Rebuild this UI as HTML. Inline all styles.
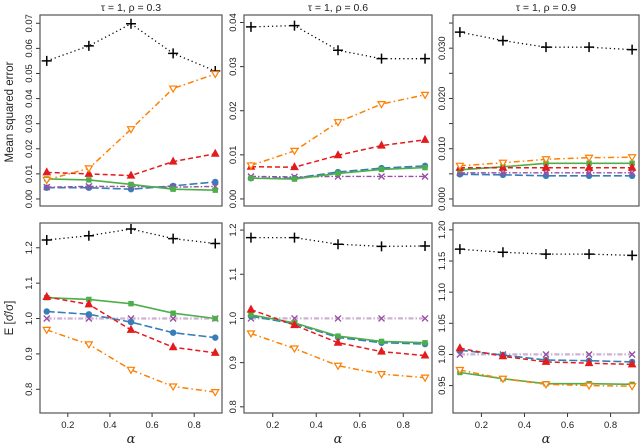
<!DOCTYPE html>
<html><head><meta charset="utf-8"><style>
html,body{margin:0;padding:0;background:#fff;}
svg{display:block;font-family:"Liberation Sans",sans-serif;}
</style></head><body>
<svg id="chart" width="640" height="445" viewBox="0 0 640 445" xmlns="http://www.w3.org/2000/svg"></svg>
<script>
const alphas = [0.1, 0.3, 0.5, 0.7, 0.9];
const seriesNames = ["naive", "orange-method", "red-method", "green-method", "blue-method", "purple-method"];
// MSE top row, panels rho 0.3, 0.6, 0.9
const mse03_black = [0.055, 0.061, 0.0698, 0.058, 0.051];
const mse03_orange = [0.0076, 0.0122, 0.0278, 0.044, 0.0498];
const mse03_red = [0.0106, 0.0100, 0.0093, 0.0149, 0.018];
const mse03_green = [0.0080, 0.0076, 0.0058, 0.0039, 0.0035];
const mse03_blue = [0.0045, 0.0045, 0.0039, 0.0052, 0.0068];
const mse03_purple = [0.0047, 0.0050, 0.0050, 0.0047, 0.0050];
const mse06_black = [0.0390, 0.0393, 0.0337, 0.0318, 0.0318];
const mse06_orange = [0.0076, 0.0109, 0.0174, 0.0215, 0.0236];
const mse06_red = [0.0073, 0.0072, 0.0099, 0.0121, 0.0134];
const mse06_green = [0.0047, 0.0045, 0.0058, 0.0067, 0.0071];
const mse06_blue = [0.0047, 0.0047, 0.0061, 0.0070, 0.0075];
const mse06_purple = [0.0051, 0.0050, 0.0051, 0.0051, 0.0051];
const mse09_black = [0.0332, 0.0315, 0.0302, 0.0302, 0.0297];
const mse09_orange = [0.0066, 0.0072, 0.0079, 0.0082, 0.0083];
const mse09_red = [0.0062, 0.0062, 0.0062, 0.0062, 0.0062];
const mse09_green = [0.0058, 0.0064, 0.0071, 0.0071, 0.0071];
const mse09_blue = [0.0049, 0.0048, 0.0046, 0.0046, 0.0046];
const mse09_purple = [0.0052, 0.0052, 0.0052, 0.0052, 0.0052];
// E[sigma-hat/sigma] bottom row
const ratio03_black = [1.222, 1.234, 1.253, 1.226, 1.212];
const ratio03_orange = [0.968, 0.927, 0.855, 0.808, 0.792];
const ratio03_red = [1.061, 1.040, 0.968, 0.919, 0.903];
const ratio03_green = [1.059, 1.054, 1.042, 1.015, 1.000];
const ratio03_blue = [1.020, 1.012, 0.990, 0.960, 0.946];
const ratio03_purple = [1.0, 1.0, 1.0, 1.0, 1.0];
const ratio06_black = [1.183, 1.183, 1.168, 1.163, 1.164];
const ratio06_orange = [0.966, 0.932, 0.893, 0.874, 0.866];
const ratio06_red = [1.020, 0.985, 0.945, 0.925, 0.916];
const ratio06_green = [1.008, 0.990, 0.960, 0.948, 0.945];
const ratio06_blue = [1.005, 0.988, 0.957, 0.945, 0.942];
const ratio06_purple = [1.0, 1.0, 1.0, 1.0, 1.0];
const ratio09_black = [1.169, 1.164, 1.161, 1.161, 1.159];
const ratio09_orange = [0.975, 0.961, 0.952, 0.950, 0.949];
const ratio09_red = [1.010, 0.997, 0.988, 0.986, 0.984];
const ratio09_green = [0.971, 0.961, 0.953, 0.953, 0.952];
const ratio09_blue = [1.007, 0.999, 0.991, 0.990, 0.988];
const ratio09_purple = [1.0, 1.0, 1.0, 1.0, 1.0];
const panelTitles = ["τ = 1, ρ = 0.3", "τ = 1, ρ = 0.6", "τ = 1, ρ = 0.9"];
const topTicks = [[0,0.01,0.02,0.03,0.04,0.05,0.06,0.07],[0,0.01,0.02,0.03,0.04],[0,0.005,0.01,0.015,0.02,0.025,0.03,0.035]];
const topTickLabels = [["0.00","0.01","0.02","0.03","0.04","0.05","0.06","0.07"],["0.00","0.01","0.02","0.03","0.04"],["0.000","","0.010","","0.020","","0.030",""]];
const botTicks = [[0.8,0.9,1.0,1.1,1.2],[0.8,0.9,1.0,1.1,1.2],[0.95,1.0,1.05,1.1,1.15,1.2]];
const botTickLabels = [["0.8","0.9","1.0","1.1","1.2"],["0.8","0.9","1.0","1.1","1.2"],["0.95","1.00","1.05","1.10","1.15","1.20"]];
const xTicks = [0.2, 0.4, 0.6, 0.8];
const xTickLabels = ["0.2", "0.4", "0.6", "0.8"];
const topYlim = [[-0.0028, 0.0733], [-0.0016, 0.0417], [-0.0014, 0.0366]];
const botYlim = [[0.733, 1.270], [0.786, 1.216], [0.906, 1.211]];

const svg = document.getElementById('chart');
const NS = "http://www.w3.org/2000/svg";
function mk(tag, attrs, parent){const e=document.createElementNS(NS,tag);for(const k in attrs)e.setAttribute(k,attrs[k]);(parent||svg).appendChild(e);return e;}

const panelX = [[40,222],[244,432],[453,639]];
const rowY = [[15,206],[223,413]];
const styles = {
  black:{c:"#000",dash:"1.2 3",m:"plus",w:1.3},
  orange:{c:"#FF7F00",dash:"6 3 1.5 3",m:"tri-open",w:1.5},
  red:{c:"#E41A1C",dash:"5 3",m:"tri",w:1.5},
  green:{c:"#4DAF4A",dash:"",m:"square",w:1.6},
  blue:{c:"#377EB8",dash:"8 3",m:"circle",w:1.6},
  purple:{c:"#984EA3",dash:"5 2 1.5 2",m:"x",w:1.4}
};
const topData = [
 {black:mse03_black,blue:mse03_blue,purple:mse03_purple,green:mse03_green,red:mse03_red,orange:mse03_orange},
 {black:mse06_black,blue:mse06_blue,purple:mse06_purple,green:mse06_green,red:mse06_red,orange:mse06_orange},
 {black:mse09_black,blue:mse09_blue,purple:mse09_purple,green:mse09_green,red:mse09_red,orange:mse09_orange}];
const botData = [
 {black:ratio03_black,purple:ratio03_purple,blue:ratio03_blue,green:ratio03_green,red:ratio03_red,orange:ratio03_orange},
 {black:ratio06_black,purple:ratio06_purple,blue:ratio06_blue,green:ratio06_green,red:ratio06_red,orange:ratio06_orange},
 {black:ratio09_black,purple:ratio09_purple,blue:ratio09_blue,green:ratio09_green,red:ratio09_red,orange:ratio09_orange}];

function marker(g,type,x,y,c,name){
  let e; const s=3.5;
  if(type==="plus"){e=mk('path',{d:`M${x-5} ${y}H${x+5}M${x} ${y-5}V${y+5}`,stroke:c,'stroke-width':1.5,fill:'none'},g);}
  else if(type==="x"){e=mk('path',{d:`M${x-3} ${y-3}L${x+3} ${y+3}M${x-3} ${y+3}L${x+3} ${y-3}`,stroke:c,'stroke-width':1.4,fill:'none'},g);}
  else if(type==="tri"){e=mk('path',{d:`M${x} ${y-s-0.5}L${x+s} ${y+s-1}L${x-s} ${y+s-1}Z`,fill:c,stroke:c},g);}
  else if(type==="tri-open"){e=mk('path',{d:`M${x} ${y+s}L${x+s} ${y-s+1}L${x-s} ${y-s+1}Z`,fill:'#fff',stroke:c,'stroke-width':1.2},g);}
  else if(type==="square"){e=mk('rect',{x:x-2.7,y:y-2.7,width:5.4,height:5.4,fill:c},g);}
  else {e=mk('circle',{cx:x,cy:y,r:3.2,fill:c},g);}
  
  
}

function panel(row,col,data,ylim,ticks,labels){
  const [x0,x1]=panelX[col],[y0,y1]=rowY[row];
  const xs=v=>x0+(v-0.068)/(0.932-0.068)*(x1-x0);
  const ys=v=>y1-(v-ylim[0])/(ylim[1]-ylim[0])*(y1-y0);
  const g=mk('g',{});
  
  
  ticks.forEach((t,i)=>{
    const y=ys(t);
    if(y<y0-1||y>y1+1) return;
    mk('line',{x1:x0-4,x2:x0,y1:y,y2:y,stroke:'#333','stroke-width':1},g);
    if(labels[i]){
      const tx=mk('text',{x:x0-8,y:y,'font-size':9.5,fill:'#222','text-anchor':'middle',transform:`rotate(-90 ${x0-8} ${y})`},g);
      tx.textContent=labels[i];
      
      
    }
  });
  if(row===1){
    xTicks.forEach((t,i)=>{
      const x=xs(t);
      mk('line',{x1:x,x2:x,y1:y1,y2:y1+4,stroke:'#333'},g);
      const tx=mk('text',{x:x,y:y1+15,'font-size':9.5,fill:'#222','text-anchor':'middle'},g);
      tx.textContent=xTickLabels[i];
      
      
    });
    const al=mk('text',{x:(x0+x1)/2,y:443,'font-size':13,fill:'#222','text-anchor':'middle','font-family':'DejaVu Serif, serif','font-style':'italic'},g);
    al.textContent='α';
    
    
  } else {
    const tt=mk('text',{x:(x0+x1)/2,y:11,'font-size':10.5,fill:'#222','text-anchor':'middle'},g);
    tt.textContent=panelTitles[col];
    
    
  }
  for(const key in data){
    const st=styles[key]; const vals=data[key];
    const c=st.c;
    const pts=vals.map((v,i)=>`${xs(alphas[i]).toFixed(1)},${ys(v).toFixed(1)}`).join(' ');
    const lc=(row===1&&key==='purple')?'#CDB0D3':c;
    const pl=mk('polyline',{points:pts,fill:'none',stroke:lc,'stroke-width':(row===1&&key==='purple')?2.2:st.w,'stroke-dasharray':st.dash},g);
    
    
    vals.forEach((v,i)=>marker(g,st.m,xs(alphas[i]),ys(v),c,key+'-point'));
  }
  const box=mk('rect',{x:x0,y:y0,width:x1-x0,height:y1-y0,fill:'none',stroke:'#555','stroke-width':1.2},g);
  
  
}
for(let c=0;c<3;c++){
  panel(0,c,topData[c],topYlim[c],topTicks[c],topTickLabels[c]);
  panel(1,c,botData[c],botYlim[c],botTicks[c],botTickLabels[c]);
}
const t1=mk('text',{x:13,y:112,'font-size':11.5,fill:'#222','text-anchor':'middle',transform:'rotate(-90 13 112)'});
t1.textContent='Mean squared error';


const t2=mk('text',{x:13,y:318,'font-size':11.5,fill:'#222','text-anchor':'middle',transform:'rotate(-90 13 318)'});
t2.textContent='E [σ̂/σ]';


</script>
</body></html>
